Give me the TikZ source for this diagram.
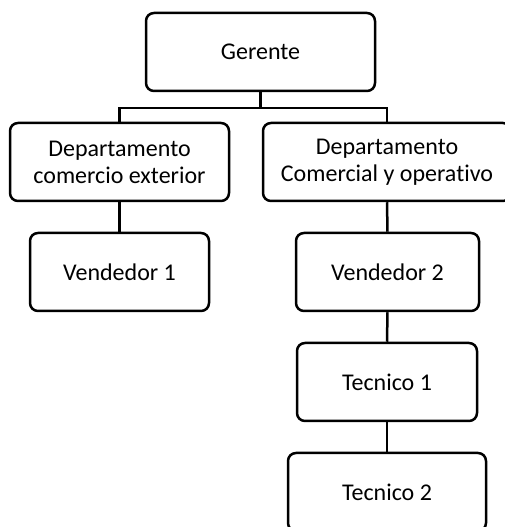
\documentclass[tikz,border=0pt]{standalone}
\usepackage{fontspec}
\setmainfont{Carlito}[Ligatures=NoCommon]

\begin{document}
\begin{tikzpicture}[x=1pt, y=1pt,
	puesto/.style={draw, rounded corners=8pt, line width=2.5pt, minimum height=78pt, inner sep=0pt, align=center, font=\fontsize{24}{27}\selectfont},
	linea/.style={line width=2.5pt}]
	\useasboundingbox (0, 0) rectangle (504, 527);
	
	\node [puesto, minimum width=229pt] (ger) at (260.5, 475) {Gerente};
	
	\node [puesto, minimum width=219pt] (dce) at (119.5, 365) {Departamento\\comercio exterior};	% links
	\node [puesto, minimum width=248pt] (dco) at (387, 365) {Departamento\\Comercial y operativo};	% rechts
	
	\node [puesto, minimum width=179pt] (ven1) at (119.5, 255) {Vendedor 1};
	\node [puesto, minimum width=183pt] (ven2) at (387.5, 255) {Vendedor 2};
	\node [puesto, minimum width=180pt] (tec1) at (387, 145) {Tecnico 1};
	\node [puesto, minimum width=198pt] (tec2) at (387, 35) {Tecnico 2};
	
	\draw [linea] (ger.south) -- ++(0, -16) coordinate (bus);		% Verteiler
	\draw [linea] (dce.north) |- (bus) -| (dco.north);
	\draw [linea] (dce.south) -- (ven1.north);
	\draw [linea] (dco.south) -- (ven2.north);
	\draw [linea] (ven2.south) -- (tec1.north);
	\draw [linea] (tec1.south) -- (tec2.north);
\end{tikzpicture}
\end{document}
